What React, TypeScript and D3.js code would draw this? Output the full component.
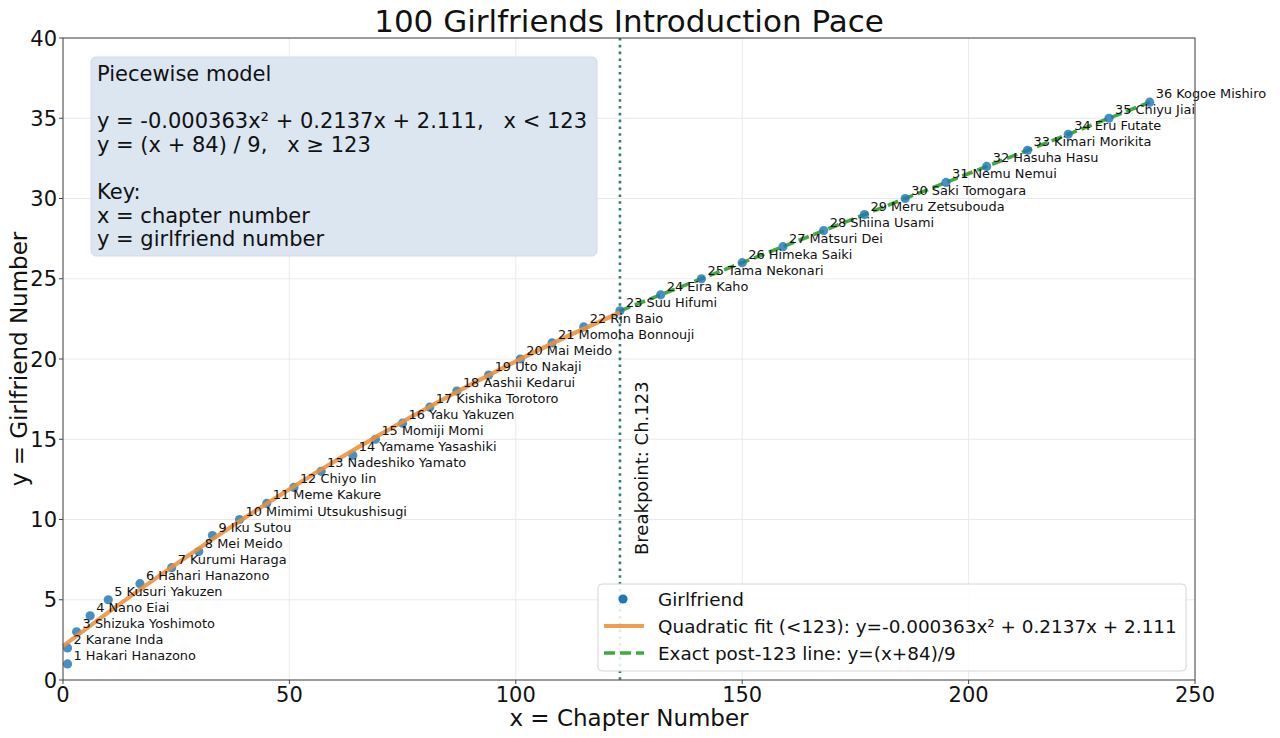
import * as d3 from "d3";

// girlfriend introductions (number, chapter, name)
const gfNumbers = d3.range(1, 37);
const chapters = [1, 1, 3, 6, 10, 17, 24, 30, 33, 39, 45, 51, 57, 64, 69, 75, 81, 87, 94, 101, 108, 115,
    123, 132, 141, 150, 159, 168, 177, 186, 195, 204, 213, 222, 231, 240];
const names = [
    "Hakari Hanazono", "Karane Inda", "Shizuka Yoshimoto", "Nano Eiai", "Kusuri Yakuzen",
    "Hahari Hanazono", "Kurumi Haraga", "Mei Meido", "Iku Sutou", "Mimimi Utsukushisugi",
    "Meme Kakure", "Chiyo Iin", "Nadeshiko Yamato", "Yamame Yasashiki", "Momiji Momi",
    "Yaku Yakuzen", "Kishika Torotoro", "Aashii Kedarui", "Uto Nakaji", "Mai Meido",
    "Momoha Bonnouji", "Rin Baio", "Suu Hifumi", "Eira Kaho", "Tama Nekonari",
    "Himeka Saiki", "Matsuri Dei", "Shiina Usami", "Meru Zetsubouda", "Saki Tomogara",
    "Nemu Nemui", "Hasuha Hasu", "Kimari Morikita", "Eru Futate", "Chiyu Jiai", "Kogoe Mishiro",
];

// quadratic fit curve (<123)
const fitX = [0, 10, 20, 30, 40, 50, 60, 70, 80, 90, 100, 110, 123];
const fitY = [2.11, 4.21, 6.24, 8.2, 10.08, 11.89, 13.63, 15.29, 16.88, 18.4, 19.85, 21.23, 22.9];

// exact post-123 line
const postX = [123, 240];
const postY = [23, 36];

const xTicks = [0, 50, 100, 150, 200, 250];
const yTicks = [0, 5, 10, 15, 20, 25, 30, 35, 40];
const breakpoint = 123;

const boxLines = [
    "Piecewise model",
    "",
    "y = -0.000363x² + 0.2137x + 2.111,   x < 123",
    "y = (x + 84) / 9,   x ≥ 123",
    "",
    "Key:",
    "x = chapter number",
    "y = girlfriend number",
];

const legendLabels = [
    "Girlfriend",
    "Quadratic fit (<123): y=-0.000363x² + 0.2137x + 2.111",
    "Exact post-123 line: y=(x+84)/9",
];

const W = 1280;
const H = 738;
const margin = { top: 38, right: 85, bottom: 58, left: 63 };
const FONT = "DejaVu Sans, Liberation Sans, sans-serif";

export default function App() {
    const x = d3.scaleLinear().domain([0, 250]).range([margin.left, W - margin.right]);
    const y = d3.scaleLinear().domain([0, 40]).range([H - margin.bottom, margin.top]);

    const fitPath = d3.line<[number, number]>()
        .x((d) => x(d[0])).y((d) => y(d[1]))
        .curve(d3.curveMonotoneX)(fitX.map((v, i) => [v, fitY[i]]));
    const postPath = d3.line<[number, number]>()
        .x((d) => x(d[0])).y((d) => y(d[1]))(postX.map((v, i) => [v, postY[i]]));

    const points = gfNumbers.map((n, i) => ({ n, ch: chapters[i], name: names[i] }));

    const x0 = x(0), x1 = x(250), y0 = y(0), y1 = y(40);
    const blue = "#1f77b4";
    const orange = "#ec8f3a";
    const green = "#2ca02c";

    return (
        <svg width={W} height={H} style={{ position: "absolute", left: 0, top: 0, background: "#fff" }}
            fontFamily={FONT}>
            <rect x={0} y={0} width={W} height={H} fill="#fff" />

            {/* grid */}
            <g stroke="#e8e8e8" strokeWidth={0.9}>
                {xTicks.map((t) => <line key={"gx" + t} x1={x(t)} x2={x(t)} y1={y1} y2={y0} />)}
                {yTicks.map((t) => <line key={"gy" + t} x1={x0} x2={x1} y1={y(t)} y2={y(t)} />)}
            </g>

            {/* model text box */}
            <rect x={91} y={57} width={506} height={199} rx={5} fill="#dbe6f1" stroke="#cfdbe7" />
            <g fontSize={21} fill="#111" style={{ whiteSpace: "pre" }}>
                {boxLines.map((s, i) => (
                    <text key={"b" + i} x={97} y={80.5 + i * 23.7} xmlSpace="preserve">{s}</text>
                ))}
            </g>

            {/* breakpoint */}
            <line x1={x(breakpoint)} x2={x(breakpoint)} y1={y1} y2={y0}
                stroke="#2f7f73" strokeWidth={2.6} strokeDasharray="2.6 4.2" />
            <text transform={`translate(${x(breakpoint) + 28},555) rotate(-90)`} fontSize={18} fill="#111">
                Breakpoint: Ch.123
            </text>

            {/* post-123 line under the points */}
            <path d={postPath ?? ""} fill="none" stroke={green} strokeWidth={3.6} strokeOpacity={0.9}
                strokeDasharray="11 5" />

            {/* points */}
            <g fill={blue} fillOpacity={0.82}>
                {points.map((p) => <circle key={"p" + p.n} cx={x(p.ch)} cy={y(p.n)} r={4.6} />)}
            </g>

            {/* quadratic fit */}
            <path d={fitPath ?? ""} fill="none" stroke={orange} strokeWidth={4.2} strokeOpacity={0.88} />

            {/* point labels */}
            <g fontSize={12.9} fill="#111">
                {points.map((p) => (
                    <text key={"l" + p.n} x={x(p.ch) + 6} y={y(p.n) - 4}>{p.n} {p.name}</text>
                ))}
            </g>

            {/* axes frame */}
            <rect x={x0} y={y1} width={x1 - x0} height={y0 - y1} fill="none" stroke="#444" strokeWidth={1} />

            {/* ticks */}
            <g fontSize={21} fill="#111">
                {xTicks.map((t) => (
                    <g key={"tx" + t}>
                        <line x1={x(t)} x2={x(t)} y1={y0} y2={y0 + 4} stroke="#444" />
                        <text x={x(t)} y={y0 + 22} textAnchor="middle">{t}</text>
                    </g>
                ))}
                {yTicks.map((t) => (
                    <g key={"ty" + t}>
                        <line x1={x0 - 4} x2={x0} y1={y(t)} y2={y(t)} stroke="#444" />
                        <text x={x0 - 6} y={y(t) + 7.5} textAnchor="end">{t}</text>
                    </g>
                ))}
            </g>

            {/* titles */}
            <text x={(x0 + x1) / 2} y={32} textAnchor="middle" fontSize={31} fill="#111">
                100 Girlfriends Introduction Pace
            </text>
            <text x={(x0 + x1) / 2} y={726} textAnchor="middle" fontSize={23} fill="#111">
                x = Chapter Number
            </text>
            <text transform={`translate(27,${(y0 + y1) / 2}) rotate(-90)`} textAnchor="middle" fontSize={23} fill="#111">
                y = Girlfriend Number
            </text>

            {/* legend */}
            <rect x={598} y={584} width={588} height={87} rx={4} fill="#fff" fillOpacity={0.85} stroke="#d6d6d6" />
            <circle cx={623} cy={599} r={4.6} fill={blue} />
            <line x1={604} x2={644} y1={626} y2={626} stroke={orange} strokeWidth={4.2} strokeOpacity={0.88} />
            <line x1={604} x2={644} y1={653} y2={653} stroke={green} strokeWidth={3.6} strokeOpacity={0.9}
                strokeDasharray="11 5" />
            <g fontSize={18.4} fill="#111">
                {legendLabels.map((s, i) => (
                    <text key={"lg" + i} x={658} y={605.5 + i * 27}>{s}</text>
                ))}
            </g>
        </svg>
    );
}
